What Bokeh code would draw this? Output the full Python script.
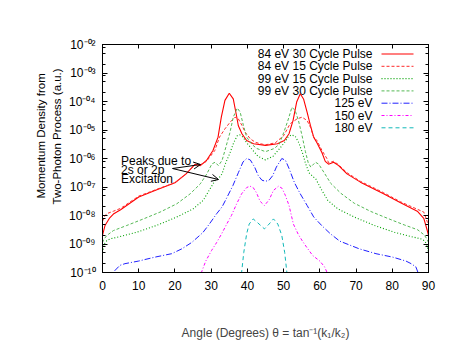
from bokeh.plotting import figure
from bokeh.models import (Range1d, LinearAxis, LogAxis, FixedTicker, Label,
                          Arrow, OpenHead, Title)
from bokeh.embed import file_html
from bokeh.resources import INLINE

# ---------------- data (angle in degrees, log10 of momentum density) -------------
red30_ang = [0, 0.7, 2, 3, 5, 10, 15, 20, 23, 25.6, 27, 28.7, 30.5, 31.9, 32.8, 33.8, 35, 36.1, 37, 37.5,
             38.5, 39.8, 41.7, 45, 48.3, 50.2, 51.5, 52.6, 53.6, 54.6, 55.5, 56.5, 57.4, 58.3, 59.2, 60.6,
             61.5, 62.4, 63.8, 65.2, 67.5, 71.2, 77.6, 82.3, 86.9, 88.7, 89.6, 90]
red30_log = [-8.70, -8.35, -8.08, -7.95, -7.80, -7.35, -7.10, -6.85, -6.55, -6.20, -6.25, -6.07, -5.72, -5.25,
             -4.55, -3.96, -3.71, -3.91, -4.50, -4.85, -5.13, -5.37, -5.48, -5.54, -5.48, -5.37, -5.13, -4.67,
             -4.02, -3.73, -3.91, -4.38, -4.84, -5.25, -5.45, -5.80, -6.10, -6.20, -6.13, -6.25, -6.54, -6.83,
             -7.24, -7.55, -7.85, -8.10, -8.50, -8.70]

red15_ang = [0, 0.7, 1.5, 3, 5, 10, 15, 20, 23, 25.6, 27, 28.7, 31, 32.3, 33.8, 35.2, 36.6, 37.5, 38.5, 39.4,
             40.8, 42.2, 43.5, 45, 47.7, 50, 51.8, 53.7, 55.1, 56.5, 57.4, 58.3, 59.2, 60.6, 62, 62.4, 63.8,
             65.2, 67.5, 71.2, 77.6, 82.3, 86.9, 88.7, 89.6, 90]
red15_log = [-8.20, -8.00, -7.92, -7.85, -7.75, -7.32, -7.08, -6.85, -6.55, -6.22, -6.22, -6.10, -5.72, -5.25,
             -4.96, -4.73, -4.55, -4.61, -4.84, -5.08, -5.31, -5.43, -5.48, -5.52, -5.45, -5.20, -4.78, -4.61,
             -4.55, -4.67, -4.90, -5.25, -5.37, -5.72, -6.01, -6.15, -6.10, -6.22, -6.50, -6.80, -7.20, -7.52,
             -7.78, -7.88, -8.20, -8.30]

g15_ang = [0, 0.5, 1.2, 2.1, 4.8, 9.4, 14.9, 20.4, 25, 27.8, 29.7, 31.1, 32, 33, 33.9, 35.2, 36.2, 37.2, 37.9,
           38.8, 39.7, 41.1, 42.9, 45, 47.1, 48.9, 50.3, 51.2, 52.2, 53.2, 54.2, 55.2, 56.1, 57, 58, 58.9, 60.3,
           62.2, 65, 69.6, 75.1, 80.6, 85.2, 87.9, 88.8, 89.5, 90]
g15_log = [-9.30, -9.00, -8.88, -8.82, -8.74, -8.59, -8.35, -8.06, -7.77, -7.47, -7.06, -6.77, -6.71, -6.54,
           -6.19, -5.80, -5.45, -5.20, -5.17, -5.25, -5.43, -5.65, -5.92, -6.05, -5.92, -5.65, -5.43, -5.25,
           -5.17, -5.22, -5.45, -5.80, -6.19, -6.50, -6.62, -6.72, -7.06, -7.47, -7.77, -8.06, -8.35, -8.59,
           -8.74, -8.82, -8.88, -9.00, -9.30]

g30_ang = [0, 0.3, 1.2, 3, 6.7, 11.3, 15.9, 20.5, 24.2, 27, 28.8, 30.2, 31.1, 32, 33, 33.8, 35.2, 36.1, 37.2,
           38, 38.9, 39.8, 41.2, 42.6, 45, 47.4, 48.8, 50, 51.1, 52.3, 53.2, 54.1, 55.1, 56, 56.8, 57.5, 58.8,
           59.7, 61.2, 63, 65.8, 69.5, 74.1, 78.7, 83.3, 87, 88.8, 89.7, 90]
g30_log = [-8.95, -8.85, -8.70, -8.53, -8.35, -8.12, -7.88, -7.59, -7.24, -6.89, -6.54, -6.19, -6.13, -6.25,
           -6.07, -5.72, -5.08, -4.55, -4.23, -4.37, -4.84, -5.25, -5.50, -5.65, -5.76, -5.65, -5.50, -5.10,
           -4.70, -4.20, -4.32, -4.67, -5.20, -5.75, -6.15, -6.30, -6.13, -6.20, -6.50, -6.87, -7.22, -7.57,
           -7.86, -8.10, -8.33, -8.50, -8.68, -8.85, -8.95]

b125_ang = [2.5, 2.9, 4.8, 6.2, 9.9, 14.5, 19.1, 21.9, 24.7, 27.7, 29.5, 31.5, 33, 34.3, 36, 37.5, 38.8, 39.8,
            40.8, 42, 43, 44, 45, 46, 47, 48, 49.5, 50.5, 51.5, 53, 54.6, 56.5, 58.3, 60.5, 62.9, 65.5, 70.9,
            75.5, 80.1, 83.8, 85.2, 86.5, 87.1, 87.5]
b125_log = [-10.3, -10.0, -9.75, -9.69, -9.60, -9.46, -9.34, -9.17, -8.94, -8.60, -8.30, -7.94, -7.70, -7.38,
            -6.95, -6.50, -6.12, -6.00, -6.05, -6.30, -6.60, -6.76, -6.80, -6.76, -6.60, -6.30, -6.00, -6.06,
            -6.35, -6.85, -7.24, -7.65, -8.05, -8.35, -8.64, -8.90, -9.17, -9.34, -9.46, -9.60, -9.69, -9.80,
            -10.0, -10.3]

m150_ang = [27.0, 27.3, 28.5, 30.1, 31.5, 32.9, 34.3, 35.6, 37, 38.4, 39.8, 40.7, 41.6, 42.5, 43.5, 44.7, 46,
            47.2, 48.6, 49.6, 50.5, 51.5, 52.7, 54, 55.2, 56.4, 58, 60, 61.3, 62, 62.3]
m150_log = [-10.3, -10.0, -9.60, -9.23, -8.95, -8.64, -8.30, -8.00, -7.60, -7.24, -7.02, -6.97, -7.02, -7.20,
            -7.50, -7.65, -7.45, -7.12, -6.97, -7.05, -7.30, -7.65, -8.30, -8.65, -8.90, -9.12, -9.40, -9.60,
            -9.80, -10.0, -10.3]

c180_ang = [38.2, 38.4, 39, 39.8, 40.5, 41.6, 42.8, 44.7, 46, 47.2, 48.4, 49.5, 50.3, 50.9, 51.1]
c180_log = [-10.3, -10.0, -9.30, -8.64, -8.30, -8.12, -8.25, -8.47, -8.30, -8.12, -8.30, -8.70, -9.30, -10.0,
            -10.3]

series_names = ["84 eV 30 Cycle Pulse", "84 eV 15 Cycle Pulse", "99 eV 15 Cycle Pulse",
                "99 eV 30 Cycle Pulse", "125 eV", "150 eV", "180 eV"]

x_ticks = [0, 10, 20, 30, 40, 50, 60, 70, 80, 90]
y_exponents = [-10, -9, -8, -7, -6, -5, -4, -3, -2]
y_tick_labels = ["10\u207b\u00b9\u2070", "10\u207b\u2070\u2079", "10\u207b\u2070\u2078",
                 "10\u207b\u2070\u2077", "10\u207b\u2070\u2076", "10\u207b\u2070\u2075",
                 "10\u207b\u2070\u2074", "10\u207b\u2070\u00b3", "10\u207b\u2070\u00b2"]

y_title_lines = ["Momentum Density from", "Two-Photon Process (a.u.)"]
x_title = "Angle (Degrees) \u03b8 = tan\u207b\u00b9(k\u2081/k\u2082)"
annotation_lines = ["Peaks due to", "2s or 2p", "Excitation"]

# ---------------- styles -------------
styles = [
    dict(color="#ff0000", dash="solid", width=1.1),
    dict(color="#ff2a2a", dash="3 2", width=1.0),
    dict(color="#00a000", dash="1 2", width=1.1),
    dict(color="#55b855", dash="3 2", width=1.0),
    dict(color="#2020ff", dash="6 2 1 2", width=1.0),
    dict(color="#ff00ff", dash="3 2 1 2", width=1.0),
    dict(color="#10b8b8", dash="4 3", width=1.0),
]

FONT = "Liberation Sans"
W, H = 447, 342
# frame edges in image pixels
FL, FR, FT, FB = 102, 428, 44, 272
XMIN, XMAX = 0, 90
YMIN_E, YMAX_E = -10, -2


def px_to_x(px):
    return XMIN + (px - FL) * (XMAX - XMIN) / (FR - FL)


def py_to_y(py):
    return 10 ** (YMAX_E - (py - FT) * (YMAX_E - YMIN_E) / (FB - FT))


p = figure(width=W, height=H, x_range=Range1d(XMIN, XMAX),
           y_range=Range1d(10 ** YMIN_E, 10 ** YMAX_E), y_axis_type="log",
           output_backend="svg", toolbar_location=None,
           min_border_left=FL, min_border_right=W - FR,
           min_border_top=FT, min_border_bottom=H - FB)
p.background_fill_color = "white"
p.border_fill_color = "white"
p.outline_line_color = "black"
p.outline_line_width = 1
p.xgrid.visible = False
p.ygrid.visible = False

yt_major = [10.0 ** e for e in y_exponents]
yt_minor = [m * 10.0 ** e for e in y_exponents[:-1] for m in (2, 5, 8)]

# bottom axis
xa = p.xaxis[0]
xa.ticker = FixedTicker(ticks=x_ticks, minor_ticks=[])
xa.major_tick_in = 4
xa.major_tick_out = 0
xa.major_label_standoff = 8
xa.major_label_text_font = FONT
xa.major_label_text_font_size = "12px"
xa.major_label_text_color = "black"
xa.axis_label = x_title
xa.axis_label_text_font = FONT
xa.axis_label_text_font_size = "12px"
xa.axis_label_text_font_style = "normal"
xa.axis_label_standoff = 33
xa.axis_line_color = "black"

# left axis
ya = p.yaxis[0]
ya.ticker = FixedTicker(ticks=yt_major, minor_ticks=yt_minor)
ya.major_label_overrides = {v: t for v, t in zip(yt_major, y_tick_labels)}
ya.major_tick_in = 5
ya.major_tick_out = 0
ya.minor_tick_in = 3
ya.minor_tick_out = 0
ya.major_label_standoff = 7
ya.major_label_text_font = FONT
ya.major_label_text_font_size = "12px"
ya.major_label_text_color = "black"
ya.axis_line_color = "black"

# y axis title as two stacked left-panel titles (nearest line first)
for txt, off, so in [(y_title_lines[1], 68, 5), (y_title_lines[0], 74, 0)]:
    p.add_layout(Title(text=txt, align="left", offset=off, standoff=so,
                       text_font=FONT, text_font_size="11.5px", text_font_style="normal",
                       text_color="black"), "left")

top = LinearAxis(ticker=FixedTicker(ticks=x_ticks, minor_ticks=[]),
                 major_tick_in=4, major_tick_out=0, minor_tick_in=0, minor_tick_out=0,
                 major_label_text_font_size="0px", major_label_text_color=None,
                 axis_line_color="black")
p.add_layout(top, "above")
right = LogAxis(ticker=FixedTicker(ticks=yt_major, minor_ticks=yt_minor),
                major_tick_in=5, major_tick_out=0, minor_tick_in=3, minor_tick_out=0,
                major_label_text_font_size="0px", major_label_text_color=None,
                axis_line_color="black")
p.add_layout(right, "right")

# curves
all_ang = [red30_ang, red15_ang, g15_ang, g30_ang, b125_ang, m150_ang, c180_ang]
all_log = [red30_log, red15_log, g15_log, g30_log, b125_log, m150_log, c180_log]
for ang, lg, st in zip(all_ang, all_log, styles):
    p.line(ang, [10 ** v for v in lg], line_color=st["color"], line_dash=st["dash"],
           line_width=st["width"])

# legend (right-aligned text, sample to the right)
for i, (name, st) in enumerate(zip(series_names, styles)):
    ry = py_to_y(53.5 + 12.3 * i)
    p.add_layout(Label(x=px_to_x(372), y=ry, text=name, text_align="right",
                       text_baseline="middle", text_font=FONT, text_font_size="12px",
                       text_color="black"))
    p.line([px_to_x(381), px_to_x(413)], [ry, ry], line_color=st["color"],
           line_dash=st["dash"], line_width=st["width"])

# annotation text and arrows
for i, t in enumerate(annotation_lines):
    p.add_layout(Label(x=px_to_x(120.5), y=py_to_y(160 + 9 * i), text=t, text_align="left",
                       text_baseline="alphabetic", text_font=FONT, text_font_size="12px",
                       text_color="black"))
for tx, ty in [(200, 164), (218, 179)]:
    p.add_layout(Arrow(x_start=px_to_x(172), y_start=py_to_y(168), x_end=px_to_x(tx),
                       y_end=py_to_y(ty), line_color="black", line_width=1,
                       end=OpenHead(size=7, line_color="black", line_width=1)))

open("out.html", "w").write(file_html(p, INLINE))
